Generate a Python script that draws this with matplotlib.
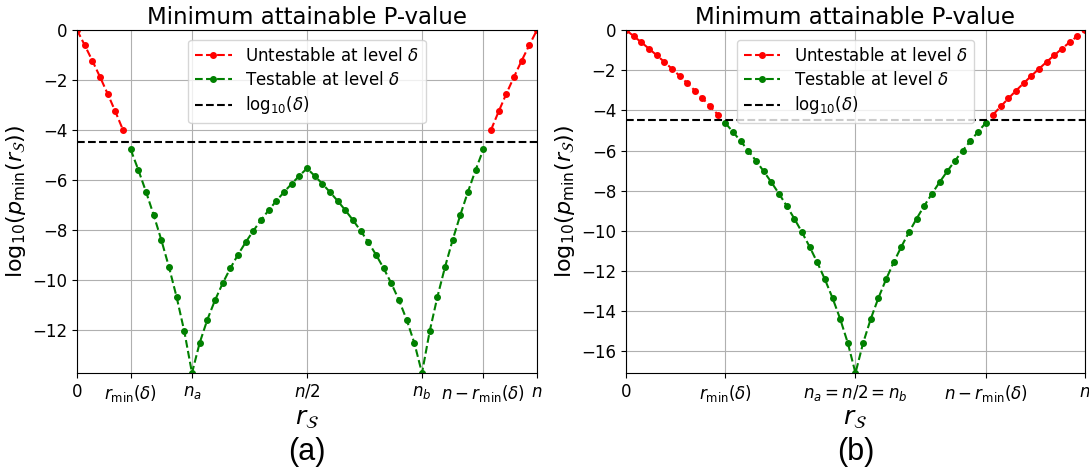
import numpy as np
import matplotlib
matplotlib.use("Agg")
import matplotlib.pyplot as plt

# %% ---- data ------------------------
# log10 of the minimum attainable p-value, n = 60, r_S = 0 .. 60

r_s = list(range(61))

# (a) n_a = 15, n_b = 45
log_pmin_a = [
    0.000, -0.602, -1.227, -1.876, -2.553, -3.260, -4.000, -4.778,
    -5.599, -6.470, -7.400, -8.400, -9.488, -10.692, -12.063, -13.726,
    -12.522, -11.592, -10.814, -10.137, -9.535, -8.991, -8.494, -8.035,
    -7.609, -7.211, -6.838, -6.486, -6.153, -5.836, -5.535,
    -5.836, -6.153, -6.486, -6.838, -7.211, -7.609, -8.035, -8.494,
    -8.991, -9.535, -10.137, -10.814, -11.592, -12.522, -13.726,
    -12.063, -10.692, -9.488, -8.400, -7.400, -6.470, -5.599, -4.778,
    -4.000, -3.260, -2.553, -1.876, -1.227, -0.602, 0.000,
]

# (b) n_a = n_b = n/2 = 30
log_pmin_b = [
    0.000, -0.301, -0.609, -0.926, -1.250, -1.583, -1.926, -2.278,
    -2.641, -3.014, -3.400, -3.798, -4.209, -4.635, -5.077, -5.535,
    -6.012, -6.510, -7.029, -7.573, -8.145, -8.747, -9.384, -10.060,
    -10.783, -11.561, -12.407, -13.336, -14.377, -15.581, -17.073,
    -15.581, -14.377, -13.336, -12.407, -11.561, -10.783, -10.060,
    -9.384, -8.747, -8.145, -7.573, -7.029, -6.510, -6.012, -5.535,
    -5.077, -4.635, -4.209, -3.798, -3.400, -3.014, -2.641, -2.278,
    -1.926, -1.583, -1.250, -0.926, -0.609, -0.301, 0.000,
]

log_delta = -4.5

ticks_a = [0, 7, 15, 30, 45, 53, 60]
ticklabels_a = ["0", r"$r_{\min}(\delta)$", r"$n_a$", r"$n/2$", r"$n_b$",
                r"$n-r_{\min}(\delta)$", r"$n$"]
ticks_b = [0, 13, 30, 47, 60]
ticklabels_b = ["0", r"$r_{\min}(\delta)$", r"$n_a=n/2=n_b$",
                r"$n-r_{\min}(\delta)$", r"$n$"]


# %% ---- drawing ------------------------

def split_runs(x, y, mask):
    """Contiguous runs of points where mask is True."""
    runs, cur = [], []
    for xi, yi, m in zip(x, y, mask):
        if m:
            cur.append((xi, yi))
        elif cur:
            runs.append(cur)
            cur = []
    if cur:
        runs.append(cur)
    return runs


def draw_panel(ax, y, ticks, ticklabels):
    x = np.array(r_s)
    y = np.array(y)
    testable = y <= log_delta
    style = dict(linestyle="--", marker="o", markersize=4, linewidth=1.5)
    for i, run in enumerate(split_runs(x, y, ~testable)):
        xs, ys = zip(*run)
        ax.plot(xs, ys, color="r", label="Untestable at level $\\delta$" if i == 0 else None, **style)
    for i, run in enumerate(split_runs(x, y, testable)):
        xs, ys = zip(*run)
        ax.plot(xs, ys, color="g", label="Testable at level $\\delta$" if i == 0 else None, **style)
    ax.axhline(log_delta, color="k", linestyle="--", linewidth=1.5,
               label=r"$\mathrm{log}_{10}(\delta)$")
    ax.set_xlim(0, 60)
    ax.set_ylim(y.min(), 0)
    ax.set_xticks(ticks)
    ax.set_xticklabels(ticklabels)
    ax.tick_params(labelsize=12)
    ax.grid(True, color="#b0b0b0", linewidth=0.8)
    ax.set_title("Minimum attainable P-value", fontsize=16.5, pad=4)
    ax.set_xlabel(r"$r_{\mathcal{S}}$", fontsize=18, labelpad=2)
    ax.set_ylabel(r"$\mathrm{log}_{10}(p_{\min}(r_{\mathcal{S}}))$", fontsize=16, labelpad=3)
    ax.legend(loc="upper center", fontsize=12, borderaxespad=0.6,
              handlelength=2.2, labelspacing=0.35)


fig = plt.figure(figsize=(10.89, 4.72), dpi=100)
ax_a = fig.add_axes([0.0707, 0.2097, 0.4224, 0.7267])
ax_b = fig.add_axes([0.5748, 0.2097, 0.4215, 0.7267])

draw_panel(ax_a, log_pmin_a, ticks_a, ticklabels_a)
draw_panel(ax_b, log_pmin_b, ticks_b, ticklabels_b)

fig.text(0.2819, 0.042, "(a)", ha="center", va="center", fontsize=22, family="Liberation Sans")
fig.text(0.7855, 0.042, "(b)", ha="center", va="center", fontsize=22, family="Liberation Sans")

fig.savefig("out.png", dpi=100)
